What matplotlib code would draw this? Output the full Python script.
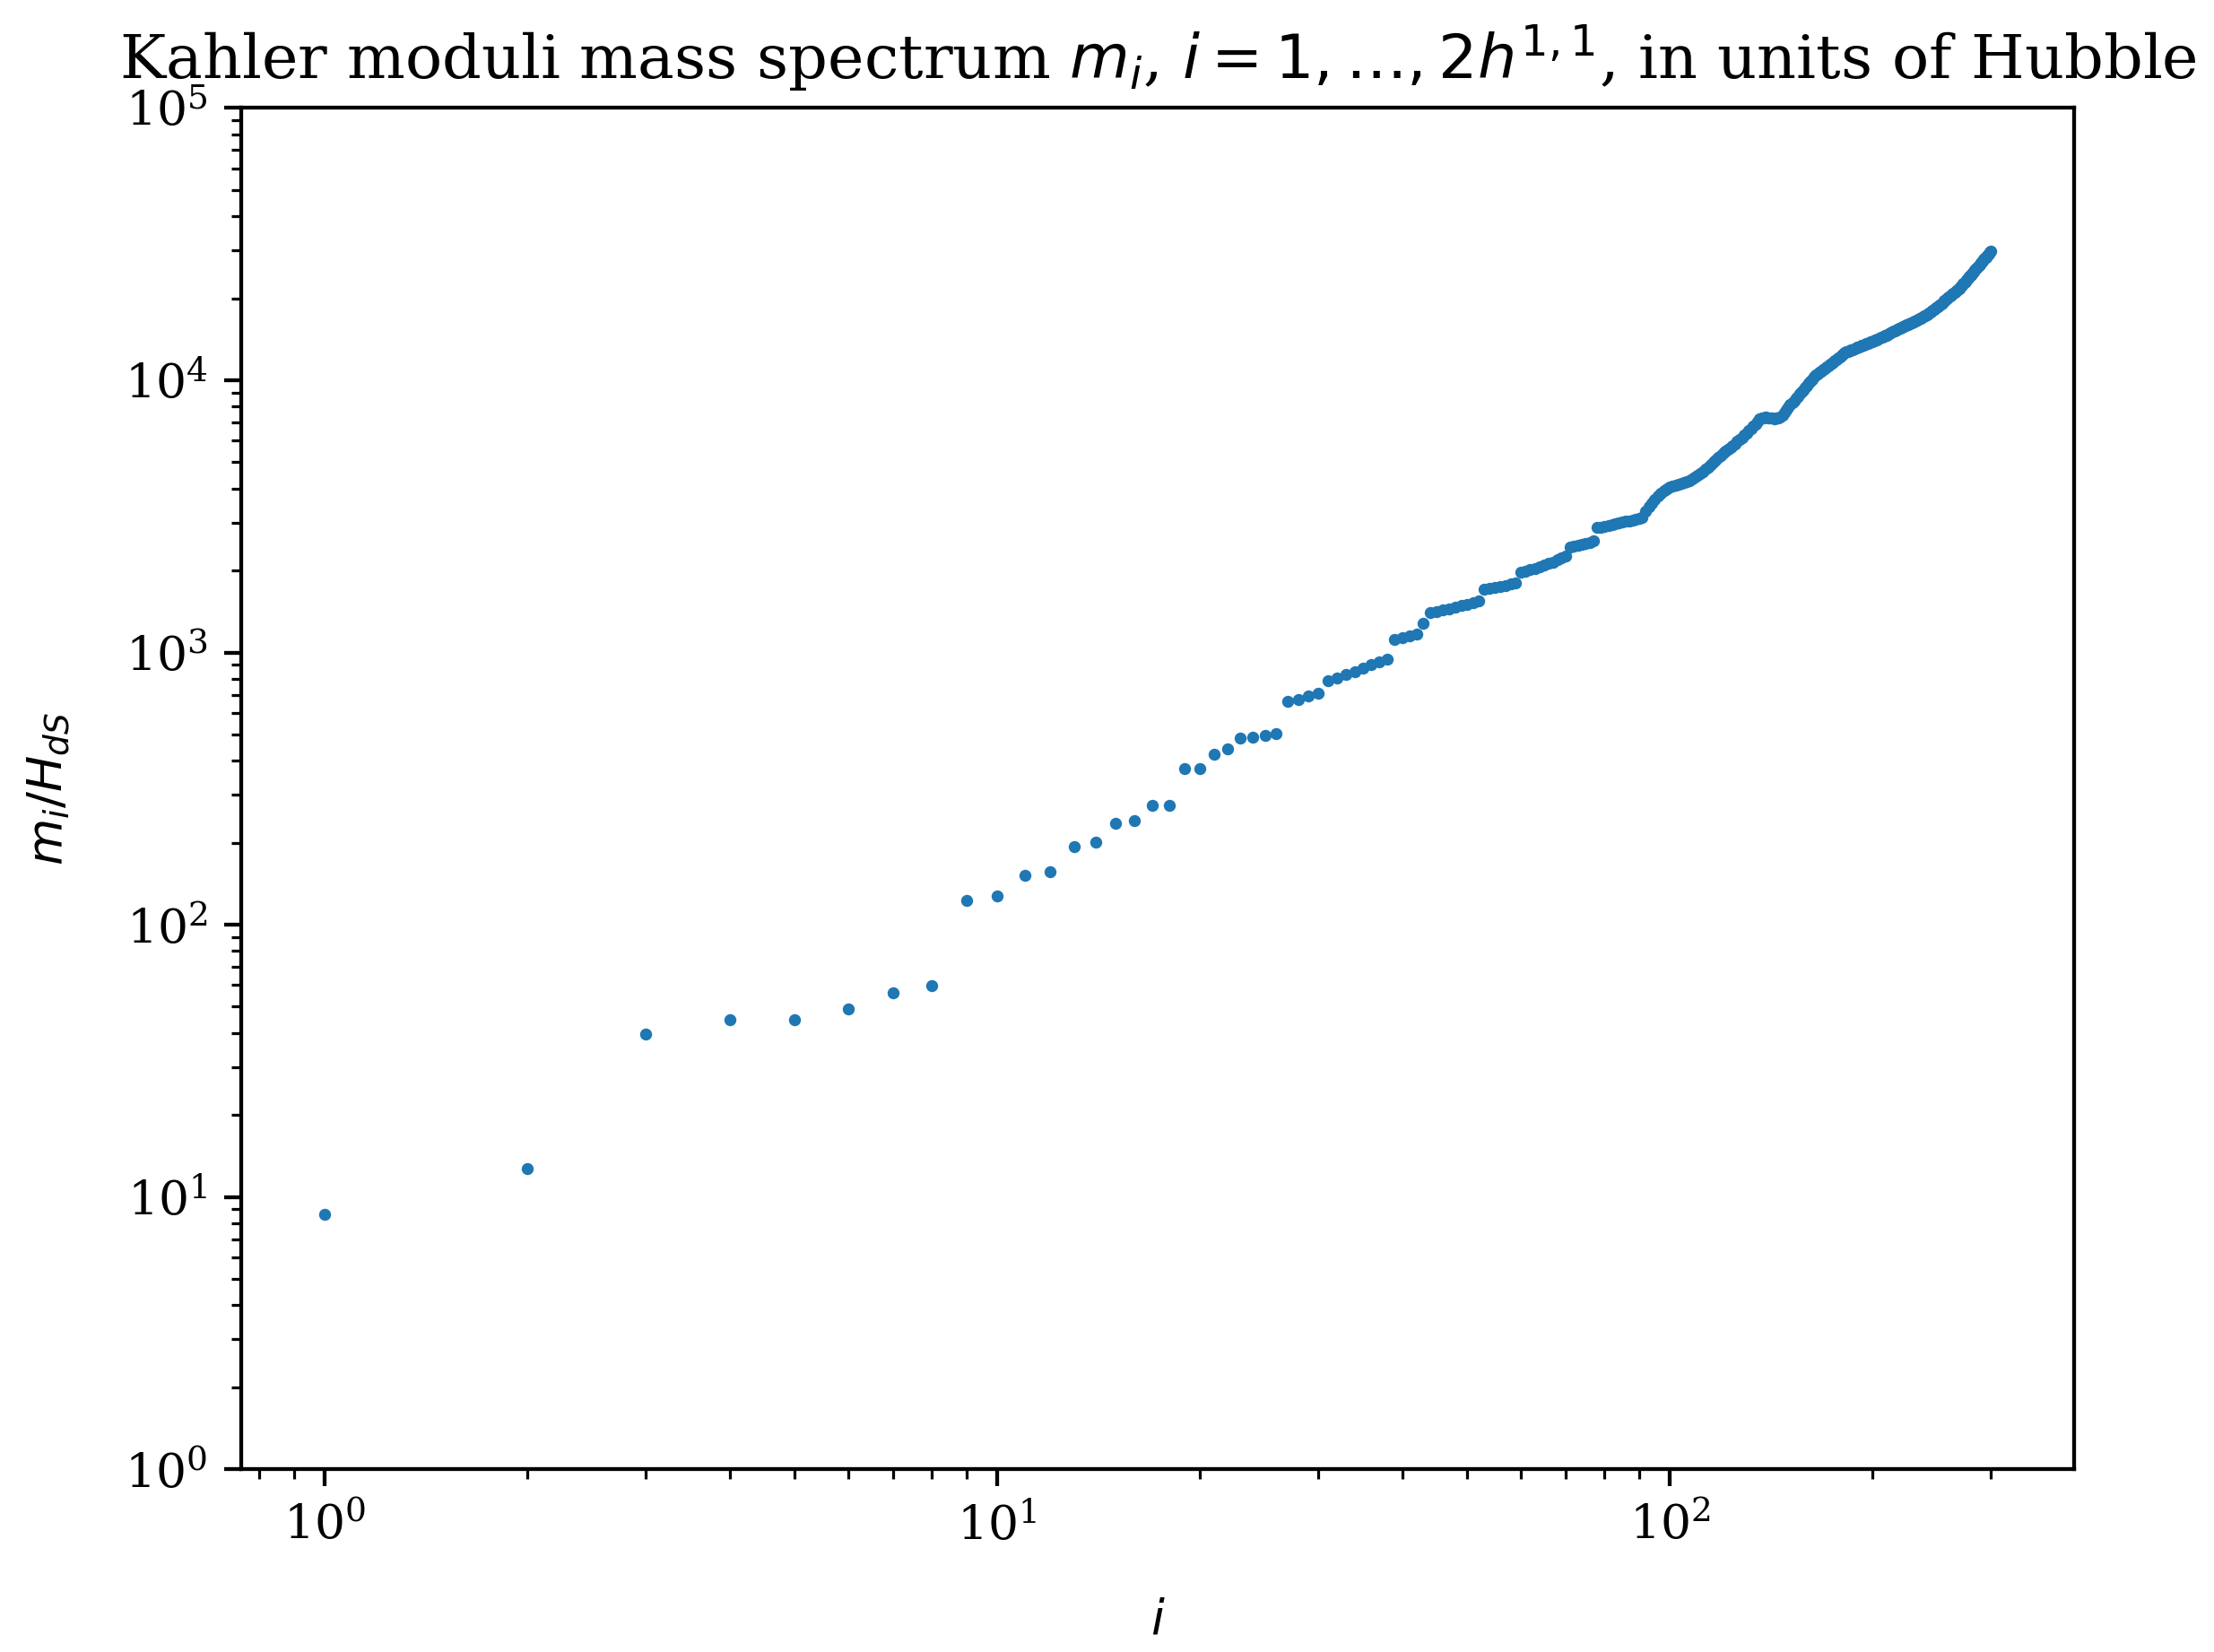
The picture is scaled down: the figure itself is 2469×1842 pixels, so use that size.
import numpy as np
import matplotlib.pyplot as plt

plt.rcParams['font.family'] = 'serif'

# mode index i = 1 .. 300 (2 h^{1,1})
idx = np.arange(1, 301)

# masses m_i / H_dS
m_low = [8.6, 12.7, 39.5, 44.7, 44.7, 49, 56, 59.6, 123, 128,
         152, 157, 194, 201, 235, 242, 275, 275, 375, 375,
         424, 442, 483, 490, 496, 502, 660, 672, 690, 706,
         785, 805, 828, 850, 875, 900, 922, 945, 1114, 1130,
         1150, 1171, 1279, 1400, 1415, 1430, 1450, 1465, 1485, 1505]
m_mid = [1525, 1546, 1711, 1725, 1740, 1752, 1765, 1782, 1800, 1967,
         1990, 2015, 2040, 2065, 2090, 2120, 2150, 2185, 2220, 2261,
         2438, 2455, 2475, 2495, 2515, 2540, 2566, 2874, 2890, 2910,
         2930, 2950, 2970, 2990, 3010, 3030, 3050, 3070, 3090, 3115,
         3140, 3300, 3420, 3540, 3656, 3750, 3850, 3930, 4000, 4060,
         4100, 4130, 4160, 4190, 4220, 4250, 4290, 4340, 4400, 4460,
         4530, 4620, 4710, 4800, 4900, 5000, 5100, 5210, 5300, 5400,
         5480, 5560, 5650, 5750, 5850, 5950, 6050, 6150, 6280, 6400,
         6520, 6650, 6780, 6920, 7070, 7230, 7250, 7280, 7300, 7290,
         7270, 7250, 7240, 7250, 7280, 7350, 7450, 7600, 7800, 7980]
m_high = [8150, 8300, 8420, 8580, 8740, 8900, 9060, 9230, 9400, 9570,
          9750, 9930, 10110, 10300, 10430, 10570, 10690, 10810, 10930, 11050,
          11170, 11300, 11420, 11550, 11680, 11810, 11940, 12070, 12200, 12340,
          12480, 12620, 12700, 12780, 12850, 12920, 12990, 13060, 13130, 13200,
          13270, 13340, 13410, 13480, 13550, 13620, 13690, 13760, 13830, 13900,
          13970, 14040, 14110, 14180, 14260, 14340, 14420, 14500, 14580, 14660,
          14740, 14820, 14940, 15070, 15150, 15230, 15310, 15390, 15470, 15550,
          15630, 15710, 15790, 15870, 15950, 16030, 16110, 16200, 16290, 16380,
          16470, 16560, 16650, 16740, 16830, 16920, 17010, 17110, 17210, 17320,
          17430, 17540, 17680, 17820, 17960, 18100, 18240, 18380, 18520, 18670,
          18820, 18970, 19120, 19270, 19420, 19570, 19720, 19880, 20040, 20200,
          20360, 20520, 20680, 20840, 21000, 21160, 21320, 21480, 21700, 21930,
          22160, 22390, 22620, 22860, 23100, 23340, 23580, 23830, 24080, 24330,
          24590, 24850, 25110, 25370, 25640, 25900, 26160, 26420, 26690, 26960,
          27230, 27500, 27780, 28060, 28340, 28630, 28920, 29210, 29500, 29800]
masses = np.array(m_low + m_mid + m_high)

fig = plt.figure(figsize=(2469 / 385.8, 1842 / 385.8), dpi=385.8)
ax = fig.add_axes([0.109, 0.1107, 0.8278, 0.8239])

ax.plot(idx, masses, 'o', color='C0', ms=2.5, mec='none')
ax.set_xscale('log')
ax.set_yscale('log')
ax.set_ylim(1, 1e5)
ax.set_xlabel(r'$i$', labelpad=10)
ax.set_ylabel(r'$m_i/H_{dS}$', labelpad=11)
ax.set_title(r'Kahler moduli mass spectrum $m_i$, $i = 1, \ldots, 2h^{1,1}$, in units of Hubble',
             fontsize=12.8)

fig.savefig('out.png', dpi=385.8)
